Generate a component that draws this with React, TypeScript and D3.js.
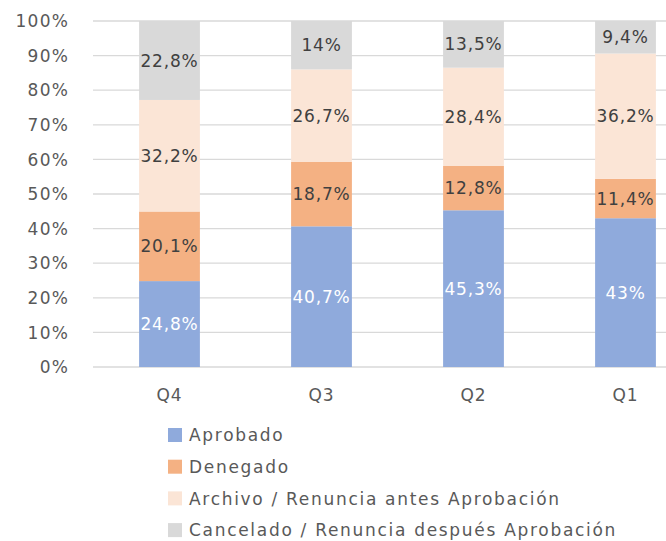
import React from "react";
import * as d3 from "d3";

const quarters = ["Q4", "Q3", "Q2", "Q1"];
const seriesNames = [
  "Aprobado",
  "Denegado",
  "Archivo / Renuncia antes Aprobación",
  "Cancelado / Renuncia después Aprobación",
];
const aprobado = [24.8, 40.7, 45.3, 43];
const denegado = [20.1, 18.7, 12.8, 11.4];
const archivo = [32.2, 26.7, 28.4, 36.2];
const cancelado = [22.8, 14, 13.5, 9.4];
const colors = ["#8FAADC", "#F4B183", "#FBE5D6", "#D9D9D9"];
const labelColors = ["#ffffff", "#404040", "#404040", "#404040"];
const yTicks = [0, 0.1, 0.2, 0.3, 0.4, 0.5, 0.6, 0.7, 0.8, 0.9, 1];

const W = 666;
const H = 541;
const font = "'DejaVu Sans', sans-serif";

export default function App() {
  const rows = quarters.map((q, i) => ({
    q,
    s0: aprobado[i],
    s1: denegado[i],
    s2: archivo[i],
    s3: cancelado[i],
  }));
  const keys = ["s0", "s1", "s2", "s3"];
  const stacked = d3.stack().keys(keys).offset(d3.stackOffsetExpand)(rows);
  const raw = [aprobado, denegado, archivo, cancelado];

  const x = d3.scaleBand().domain(quarters).range([93.5, 701.5]).paddingInner(0.6).paddingOuter(0.3);
  const y = d3.scaleLinear().domain([0, 1]).range([367, 21]);
  const fmt = (v: number) => String(v).replace(".", ",") + "%";

  return (
    <svg width={W} height={H} style={{ position: "absolute", left: 0, top: 0 }} fontFamily={font}>
      <rect width={W} height={H} fill="#fff" />
      {yTicks.map((t) => (
        <g key={t}>
          <line x1={93} x2={W} y1={y(t)} y2={y(t)} stroke="#d9d9d9" strokeWidth={1.3} />
          <text x={69} y={y(t)} dy="0.36em" textAnchor="end" fontSize={17} fill="#595959" letterSpacing={1.2}>
            {Math.round(t * 100) + "%"}
          </text>
        </g>
      ))}
      {stacked.map((layer, si) => (
        <g key={si}>
          {layer.map((d, i) => (
            <rect
              key={i}
              x={x(quarters[i])}
              width={x.bandwidth()}
              y={y(d[1])}
              height={y(d[0]) - y(d[1])}
              fill={colors[si]}
            />
          ))}
          {layer.map((d, i) => (
            <text
              key={"t" + i}
              x={x(quarters[i])! + x.bandwidth() / 2}
              y={(y(d[0]) + y(d[1])) / 2}
              dy="0.36em"
              textAnchor="middle"
              fontSize={17}
              letterSpacing={0.8}
              fill={labelColors[si]}
            >
              {fmt(raw[si][i])}
            </text>
          ))}
        </g>
      ))}
      {quarters.map((q) => (
        <text key={q} x={x(q)! + x.bandwidth() / 2} y={395} dy="0.36em" textAnchor="middle" fontSize={17} fill="#595959" letterSpacing={1}>
          {q}
        </text>
      ))}
      {seriesNames.map((n, i) => (
        <g key={n} transform={`translate(168, ${435 + i * 31.7})`}>
          <rect x={0} y={-7} width={14} height={14} fill={colors[i]} />
          <text x={21} y={0} dy="0.36em" fontSize={17} fill="#595959" letterSpacing={1.7}>
            {n}
          </text>
        </g>
      ))}
    </svg>
  );
}
